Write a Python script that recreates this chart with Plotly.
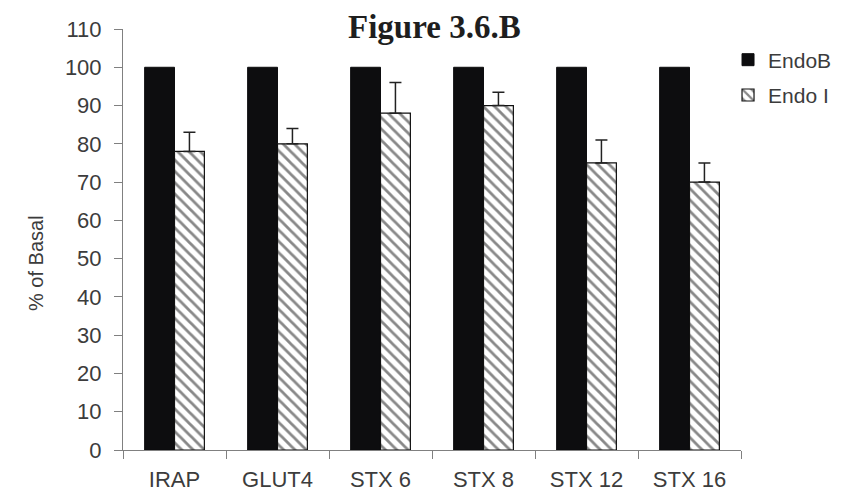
import plotly.graph_objects as go

categories = ["IRAP", "GLUT4", "STX 6", "STX 8", "STX 12", "STX 16"]
endo_b = [100, 100, 100, 100, 100, 100]
endo_i = [78, 80, 88, 90, 75, 70]
endo_i_err = [5, 4, 8, 3.5, 6, 5]
y_ticks = list(range(0, 111, 10))

fig = go.Figure()
fig.add_trace(go.Bar(
    x=categories, y=endo_b, name="EndoB", legendgroup="a",
    marker=dict(color="#0d0d0f", line=dict(color="#0d0d0f", width=1)),
))
fig.add_trace(go.Bar(
    x=categories, y=endo_i, name="Endo I", legendgroup="b",
    marker=dict(color="white", line=dict(color="#111", width=1.2),
                pattern=dict(shape="\\", fgcolor="#111", bgcolor="white",
                             size=8, solidity=0.35)),
    error_y=dict(type="data", array=endo_i_err, arrayminus=[0]*6,
                 symmetric=False, color="#222", thickness=1.5, width=6),
))

axis_font = dict(family="Liberation Sans, Arial", size=22, color="#3c3c3c")
fig.update_layout(
    width=841, height=495,
    margin=dict(l=115, r=108, t=21, b=53),
    paper_bgcolor="white", plot_bgcolor="white",
    barmode="group", bargap=0.42, bargroupgap=0,
    showlegend=True,
    legend=dict(x=0.979, xanchor="left", y=0.975, yanchor="top",
                font=dict(family="Liberation Sans, Arial", size=21, color="#3c3c3c"),
                tracegroupgap=5, bgcolor="rgba(0,0,0,0)", borderwidth=0),
    xaxis=dict(showline=True, linecolor="#808080", linewidth=1, automargin=False,
               ticks="outside", ticklen=8, tickcolor="#808080", tickson="boundaries",
               tickfont=axis_font, showgrid=False, zeroline=False, ticklabelstandoff=10),
    yaxis=dict(range=[0, 110], tickvals=y_ticks, showline=True, linecolor="#808080",
               linewidth=1, ticks="outside", ticklen=8, tickcolor="#808080", automargin=False,
               tickfont=axis_font, showgrid=False, zeroline=False, ticklabelstandoff=8),
    annotations=[
        dict(text="<b>Figure 3.6.B</b>", xref="paper", yref="paper",
             x=(426 - 115) / 618, y=1.0, yshift=21, xanchor="center",
             yanchor="top", showarrow=False, borderpad=0,
             font=dict(family="Liberation Serif, Times New Roman", size=33, color="#1e1e1e")),
        dict(text="% of Basal", xref="paper", yref="paper",
             x=0, xshift=-87, y=(442 - 255) / 421, xanchor="center", yanchor="middle",
             textangle=-90, showarrow=False,
             font=dict(family="Liberation Sans, Arial", size=20, color="#3c3c3c")),
    ],
)
fig.write_html("out.html")
